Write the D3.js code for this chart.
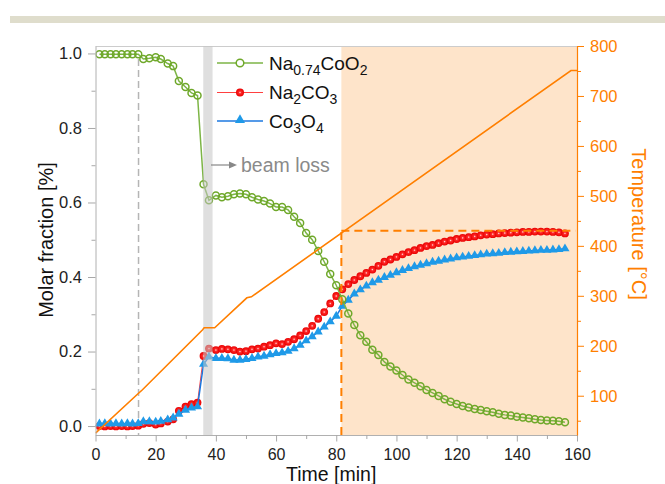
<!DOCTYPE html>
<html><head><meta charset="utf-8">
<script src="https://cdn.jsdelivr.net/npm/d3@7"></script>
<style>
body{margin:0;background:#fff}
svg{display:block;font-family:"Liberation Sans",Arial,sans-serif}
</style>
</head><body>
<svg id="c" width="665" height="484"></svg>
<script>
// ---------- data ----------
const time = [1.3,3.1,5.0,6.8,8.7,10.6,12.3,14.2,15.9,17.9,20.0,21.7,24.0,25.8,27.7,29.9,31.9,33.9,35.9,37.7,
  40,42,44,46,48,50,52,54,56,58,60,62,64,66,68,70,72,74,76,78,80,82,84,86,88,90,92,94,96,98,
  100,102,104,106,108,110,112,114,116,118,120,122,124,126,128,130,132,134,136,138,140,142,144,146,148,150,152,154,156];

const naCoO2 = [0.998,0.998,0.998,0.998,0.998,0.998,0.998,0.998,0.985,0.987,0.990,0.985,0.973,0.966,0.926,0.910,0.894,0.887,0.649,0.606,
  0.619,0.614,0.617,0.622,0.624,0.622,0.614,0.608,0.604,0.597,0.588,0.588,0.580,0.562,0.545,0.518,0.500,0.470,0.441,0.408,
  0.378,0.340,0.302,0.271,0.244,0.226,0.205,0.191,0.172,0.160,0.149,0.137,0.125,0.116,0.107,0.097,0.089,0.081,0.072,0.065,
  0.059,0.054,0.050,0.046,0.043,0.040,0.037,0.033,0.030,0.028,0.025,0.023,0.021,0.018,0.016,0.015,0.014,0.013,0.010];

const na2co3 = [0.000,-0.001,0.000,-0.001,0.000,-0.001,0.000,0.001,0.006,0.008,0.004,0.007,0.012,0.018,0.041,0.052,0.059,0.063,0.188,0.208,
  0.204,0.207,0.206,0.204,0.200,0.201,0.206,0.208,0.213,0.217,0.222,0.220,0.226,0.233,0.243,0.255,0.269,0.288,0.306,0.329,
  0.349,0.367,0.381,0.392,0.402,0.411,0.420,0.430,0.441,0.447,0.454,0.461,0.467,0.472,0.478,0.483,0.486,0.491,0.495,0.498,
  0.502,0.505,0.507,0.509,0.512,0.514,0.515,0.517,0.518,0.519,0.520,0.521,0.521,0.522,0.522,0.522,0.521,0.520,0.517];

const co3o4 = [0.006,0.007,0.006,0.007,0.006,0.007,0.006,0.007,0.012,0.012,0.011,0.013,0.017,0.022,0.032,0.043,0.049,0.052,0.166,0.186,
  0.182,0.182,0.181,0.177,0.177,0.179,0.182,0.186,0.188,0.192,0.195,0.197,0.201,0.208,0.217,0.229,0.240,0.253,0.266,0.280,
  0.295,0.322,0.338,0.355,0.366,0.376,0.385,0.392,0.399,0.405,0.412,0.418,0.423,0.428,0.432,0.436,0.440,0.443,0.446,0.449,
  0.452,0.454,0.456,0.458,0.460,0.462,0.463,0.464,0.466,0.467,0.468,0.469,0.470,0.471,0.472,0.472,0.473,0.474,0.476];

const tempTime = [0,14.3,15.6,35.6,36.1,39.6,50.3,51.8,158,160];
const tempC    = [25,105,112,232,236,236,296,298,751,751];

const beamLoss = [35.8, 38.9];
const heatRange = [81.7, 160];
const startLine = 14.3;
const holdTemp = 430;

const xTicks = [0,20,40,60,80,100,120,140,160];
const xMinor = [10,30,50,70,90,110,130,150];
const yTicks = [0,0.2,0.4,0.6,0.8,1.0];
const yMinor = [0.1,0.3,0.5,0.7,0.9];
const tTicks = [100,200,300,400,500,600,700,800];
const tMinor = [50,150,250,350,450,550,650,750];

// ---------- setup ----------
const L = 95.5, R = 577, T = 46, B = 435;
const svg = d3.select("#c");
const x = d3.scaleLinear().domain([0,160]).range([L,R]);
const y = d3.scaleLinear().domain([-0.024,1.02]).range([B,T]);
const yT = d3.scaleLinear().domain([21.4,800]).range([B,T]);

const ORANGE = "#ff7f00", GREEN = "#6fa82a", GREENL = "#7db546", BLUE = "#1f9ae8";

const defs = svg.append("defs");
const g1 = defs.append("radialGradient").attr("id","ball").attr("cx","50%").attr("cy","50%").attr("r","50%");
g1.append("stop").attr("offset","0%").attr("stop-color","#ffe6e6");
g1.append("stop").attr("offset","30%").attr("stop-color","#ff2a2a");
g1.append("stop").attr("offset","100%").attr("stop-color","#e80000");
defs.append("clipPath").attr("id","plot").append("rect")
  .attr("x",L).attr("y",T).attr("width",R-L).attr("height",B-T);

// decorative top bar
svg.append("rect").attr("x",10).attr("y",16).attr("width",655).attr("height",7).attr("fill","#dfddcc");

// heating region
svg.append("rect").attr("x",x(heatRange[0])).attr("y",T)
  .attr("width",x(heatRange[1])-x(heatRange[0])).attr("height",B-T).attr("fill","#fee4ca");

// top frame line
svg.append("line").attr("x1",L).attr("x2",R).attr("y1",T+0.5).attr("y2",T+0.5)
  .attr("stroke","#cccccc").attr("stroke-width",1);

// gray dashed start line
svg.append("line").attr("x1",x(startLine)).attr("x2",x(startLine)).attr("y1",y(0.985)).attr("y2",B)
  .attr("stroke","#b5b5b5").attr("stroke-width",1.5).attr("stroke-dasharray","7,4");

const data = time.map((t,i)=>({t, a:naCoO2[i], b:na2co3[i], c:co3o4[i]}));
const plotG = svg.append("g").attr("clip-path","url(#plot)");

// red series
plotG.append("path").datum(data).attr("fill","none").attr("stroke","#ff4040").attr("stroke-width",1)
  .attr("d", d3.line().x(d=>x(d.t)).y(d=>y(d.b)));
plotG.selectAll(".red").data(data).join("circle").attr("class","red")
  .attr("cx",d=>x(d.t)).attr("cy",d=>y(d.b)).attr("r",3.9).attr("fill","url(#ball)");

// blue series
plotG.append("path").datum(data).attr("fill","none").attr("stroke","#1c78e0").attr("stroke-width",1.5)
  .attr("d", d3.line().x(d=>x(d.t)).y(d=>y(d.c)));
const tri = d3.symbol(d3.symbolTriangle, 36);
plotG.selectAll(".blue").data(data).join("path").attr("class","blue")
  .attr("transform",d=>`translate(${x(d.t)},${y(d.c)})`).attr("d",tri).attr("fill",BLUE);

// green series
plotG.append("path").datum(data).attr("fill","none").attr("stroke",GREENL).attr("stroke-width",1.5)
  .attr("d", d3.line().x(d=>x(d.t)).y(d=>y(d.a)));
plotG.selectAll(".green").data(data).join("circle").attr("class","green")
  .attr("cx",d=>x(d.t)).attr("cy",d=>y(d.a)).attr("r",3.5)
  .attr("fill","none").attr("stroke",GREEN).attr("stroke-width",1.5);

// beam loss band (semi-transparent, over data)
svg.append("rect").attr("x",x(beamLoss[0])).attr("y",T)
  .attr("width",x(beamLoss[1])-x(beamLoss[0])).attr("height",B-T)
  .attr("fill","#c4c4c4").attr("opacity",0.55);

// temperature line
const tdata = tempTime.map((t,i)=>({t, v:tempC[i]}));
svg.append("path").datum(tdata).attr("fill","none").attr("stroke",ORANGE).attr("stroke-width",1.6)
  .attr("clip-path","url(#plot)")
  .attr("d", d3.line().x(d=>x(d.t)).y(d=>yT(d.v)));

// orange dashed hold lines
svg.append("path").attr("fill","none").attr("stroke",ORANGE).attr("stroke-width",2)
  .attr("stroke-dasharray","8,5")
  .attr("d", `M${x(heatRange[0])},${B} L${x(heatRange[0])},${yT(holdTemp)}`);
svg.append("path").attr("fill","none").attr("stroke",ORANGE).attr("stroke-width",2)
  .attr("stroke-dasharray","8,5")
  .attr("d", `M${x(heatRange[0])},${yT(holdTemp)} L${x(159.5)},${yT(holdTemp)}`);

// ---------- axes ----------
const fmt = d3.format(".1f");
const ax = svg.append("g").attr("transform",`translate(${L},0)`)
  .call(d3.axisLeft(y).tickValues(yTicks).tickFormat(fmt).tickSize(7.5).tickSizeOuter(0).tickPadding(6));
svg.append("g").attr("transform",`translate(${L},0)`)
  .call(d3.axisLeft(y).tickValues(yMinor).tickFormat("").tickSize(4).tickSizeOuter(0))
  .select(".domain").remove();
const bx = svg.append("g").attr("transform",`translate(0,${B})`)
  .call(d3.axisBottom(x).tickValues(xTicks).tickSize(6.5).tickSizeOuter(0).tickPadding(7.5));
svg.append("g").attr("transform",`translate(0,${B})`)
  .call(d3.axisBottom(x).tickValues(xMinor).tickFormat("").tickSize(4).tickSizeOuter(0))
  .select(".domain").remove();
const rx = svg.append("g").attr("class","raxis").attr("transform",`translate(${R},0)`)
  .call(d3.axisRight(yT).tickValues(tTicks).tickSize(7).tickSizeOuter(0).tickPadding(6));
const rxm = svg.append("g").attr("class","raxis").attr("transform",`translate(${R},0)`)
  .call(d3.axisRight(yT).tickValues(tMinor).tickFormat("").tickSize(4).tickSizeOuter(0));
rxm.select(".domain").remove();

svg.selectAll("g.tick text").attr("font-size",16.5).attr("font-family","'Liberation Sans',Arial,sans-serif");
bx.selectAll("text").attr("font-size",16);
ax.selectAll("text").attr("fill","#222");
bx.selectAll("text").attr("fill","#222");
rx.selectAll("text").attr("fill",ORANGE);
svg.selectAll("g .domain").attr("stroke","#b0b0b0");
svg.selectAll("g .tick line").attr("stroke","#a8a8a8");
rx.select(".domain").attr("stroke",ORANGE).attr("stroke-width",1.2);
svg.selectAll("g.raxis .tick line").attr("stroke",ORANGE);

// axis titles
svg.append("text").attr("transform",`translate(53,240) rotate(-90)`).attr("text-anchor","middle")
  .attr("font-size",20).attr("fill","#111").text("Molar fraction [%]");
svg.append("text").attr("x",(L+R)/2-5).attr("y",481).attr("text-anchor","middle")
  .attr("font-size",19.5).attr("fill","#111").text("Time [min]");
svg.append("text").attr("transform",`translate(632,224) rotate(90)`).attr("text-anchor","middle")
  .attr("font-size",20).attr("fill",ORANGE).text("Temperature [°C]");

// ---------- legend ----------
const leg = svg.append("g");
function legText(yb, parts){
  const t = leg.append("text").attr("x",269).attr("y",yb).attr("font-size",19).attr("fill","#111");
  parts.forEach(p=>{
    const s = t.append("tspan").text(p[0]);
    if(p[1]) s.attr("font-size",14).attr("dy",5); else s.attr("dy",p[2]||0);
  });
}
// row 1
leg.append("line").attr("x1",217).attr("x2",263).attr("y1",63).attr("y2",63).attr("stroke",GREENL).attr("stroke-width",1.5);
leg.append("circle").attr("cx",240).attr("cy",63).attr("r",3.8).attr("fill","#fff").attr("stroke",GREEN).attr("stroke-width",1.5);
legText(69.5, [["Na"],["0.74",1],["CoO",0,-5],["2",1]]);
// row 2
leg.append("line").attr("x1",217).attr("x2",263).attr("y1",92.5).attr("y2",92.5).attr("stroke","#ff4040").attr("stroke-width",1);
leg.append("circle").attr("cx",240).attr("cy",92.5).attr("r",4).attr("fill","url(#ball)");
legText(99, [["Na"],["2",1],["CO",0,-5],["3",1]]);
// row 3
leg.append("line").attr("x1",217).attr("x2",263).attr("y1",121).attr("y2",121).attr("stroke","#1c78e0").attr("stroke-width",1.5);
leg.append("path").attr("transform","translate(240,120)").attr("d",d3.symbol(d3.symbolTriangle,44)).attr("fill",BLUE);
legText(128, [["Co"],["3",1],["O",0,-5],["4",1]]);

// ---------- beam loss annotation ----------
svg.append("line").attr("x1",211).attr("x2",231).attr("y1",165).attr("y2",165).attr("stroke","#888").attr("stroke-width",1.2);
svg.append("path").attr("d","M237,165 L229,161.5 L229,168.5 Z").attr("fill","#888");
svg.append("text").attr("x",241).attr("y",171.5).attr("font-size",19.5).attr("fill","#8a8a8a").text("beam loss");
</script>
</body></html>
